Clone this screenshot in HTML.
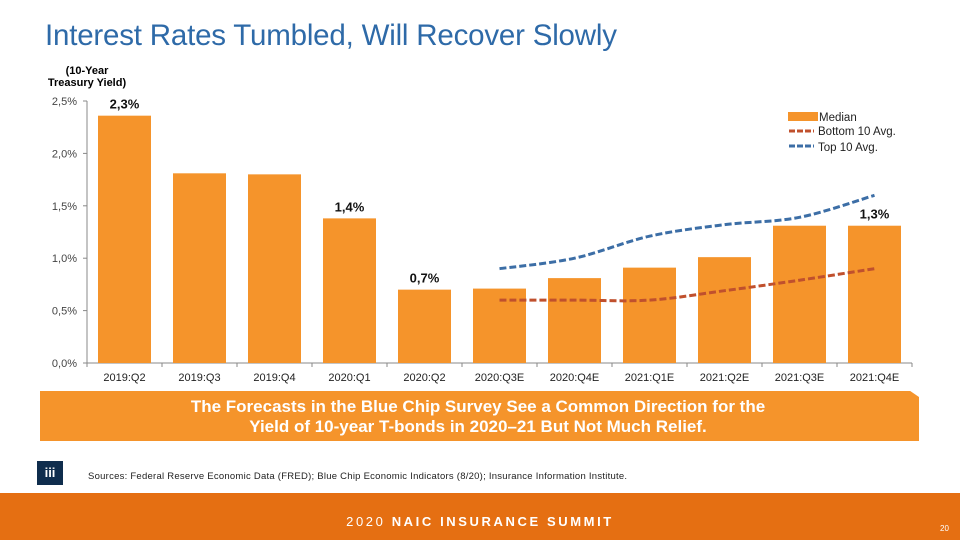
<!DOCTYPE html>
<html><head><meta charset="utf-8"><style>
body{margin:0;width:960px;height:540px;overflow:hidden;background:#fff;font-family:"Liberation Sans",sans-serif;position:relative}
.a{position:absolute}
</style></head><body>
<div class="a" style="left:45px;top:19px;font-size:29.5px;color:#2e6aa8;letter-spacing:-0.2px">Interest Rates Tumbled, Will Recover Slowly</div>
<div class="a" style="left:40px;top:65px;width:94px;text-align:center;font-size:11px;font-weight:bold;line-height:12px">(10-Year<br>Treasury Yield)</div>
<svg class="a" style="left:0;top:0" width="960" height="400">
<g id="g"></g>
<g>
<rect x="788" y="112" width="30" height="9" fill="#f5942b"/>
<text x="819" y="121" font-size="11.5" fill="#222">Median</text>
<line x1="789" y1="131" x2="814" y2="131" stroke="#c0502d" stroke-width="3" stroke-dasharray="6,2"/>
<text x="818" y="135" font-size="11.5" fill="#222">Bottom 10 Avg.</text>
<line x1="789" y1="146" x2="814" y2="146" stroke="#3c6ea6" stroke-width="3" stroke-dasharray="6,2"/>
<text x="818" y="151" font-size="11.5" fill="#222">Top 10 Avg.</text>
</g>
</svg>
<div class="a" style="left:40px;top:391px;width:879px;height:50px;background:#f5942b;clip-path:polygon(0 0,99% 0,100% 12%,100% 100%,0 100%);color:#fff;font-weight:bold;font-size:17px;text-align:center;line-height:20px;padding-top:6px;box-sizing:border-box"><div style="width:876px">The Forecasts in the Blue Chip Survey See a Common Direction for the<br>Yield of 10-year T-bonds in 2020–21 But Not Much Relief.</div></div>
<div class="a" style="left:37px;top:461px;width:26px;height:24px;background:#0f2d4d;color:#fff;font-size:13px;font-weight:bold;text-align:center;line-height:24px">iii</div>
<div class="a" style="left:88px;top:471px;font-size:9.5px;color:#222;letter-spacing:0.25px">Sources: Federal Reserve Economic Data (FRED); Blue Chip Economic Indicators (8/20); Insurance Information Institute.</div>
<div class="a" style="left:0;top:493px;width:960px;height:47px;background:#e56f12"></div>
<div class="a" style="left:0;top:514px;width:960px;text-align:center;color:#fff;font-size:13px;letter-spacing:2.6px">2020 <b>NAIC INSURANCE SUMMIT</b></div>
<div class="a" style="left:940px;top:524px;color:#fff;font-size:8px">20</div>
<script>
const categories=["2019:Q2","2019:Q3","2019:Q4","2020:Q1","2020:Q2","2020:Q3E","2020:Q4E","2021:Q1E","2021:Q2E","2021:Q3E","2021:Q4E"];
const median=[2.36,1.81,1.80,1.38,0.70,0.71,0.81,0.91,1.01,1.31,1.31];
const top10=[null,null,null,null,null,0.90,1.00,1.21,1.32,1.39,1.60];
const bottom10=[null,null,null,null,null,0.60,0.60,0.60,0.69,0.79,0.90];
const labels=["2,3%",null,null,"1,4%","0,7%",null,null,null,null,null,"1,3%"];
const yTicks=[0,0.5,1,1.5,2,2.5];
const yTickLabels=["0,0%","0,5%","1,0%","1,5%","2,0%","2,5%"];
const NS="http://www.w3.org/2000/svg",g=document.getElementById('g');
const x0=87,slot=75,yb=363,ppu=104.8;
const X=i=>x0+slot*(i+0.5),Y=v=>yb-v*ppu;
function mk(t,a){const e=document.createElementNS(NS,t);for(const k in a)e.setAttribute(k,a[k]);g.appendChild(e);return e;}
let e=mk('line',{x1:x0,y1:Y(0),x2:x0,y2:Y(2.5),stroke:'#888'});


e=mk('line',{x1:x0,y1:yb,x2:x0+slot*categories.length,y2:yb,stroke:'#888'});


yTicks.forEach((v,i)=>{mk('line',{x1:x0-4,y1:Y(v),x2:x0,y2:Y(v),stroke:'#888'});
const t=mk('text',{x:x0-10,y:Y(v)+4,'text-anchor':'end','font-size':11,fill:'#444'});t.textContent=yTickLabels[i];

});
for(let i=0;i<=categories.length;i++)mk('line',{x1:x0+slot*i,y1:yb,x2:x0+slot*i,y2:yb+4,stroke:'#888'});
categories.forEach((c,i)=>{
const r=mk('rect',{x:X(i)-26.5,y:Y(median[i]),width:53,height:median[i]*ppu,fill:'#f5942b'});


const t=mk('text',{x:X(i),y:yb+18,'text-anchor':'middle','font-size':11,fill:'#222'});t.textContent=c;


if(labels[i]){const l=mk('text',{x:X(i),y:Y(median[i])-7,'text-anchor':'middle','font-size':13,'font-weight':'bold',fill:'#111'});l.textContent=labels[i];

}
});
function curve(arr,col,name){const p=[];arr.forEach((v,i)=>{if(v!=null)p.push([X(i),Y(v)]);});
let d='M'+p[0];for(let i=0;i<p.length-1;i++){const a=p[i-1]||p[i],b=p[i],c=p[i+1],n=p[i+2]||c;
const c1=[b[0]+(c[0]-a[0])/6,b[1]+(c[1]-a[1])/6],c2=[c[0]-(n[0]-b[0])/6,c[1]-(n[1]-b[1])/6];d+='C'+c1+' '+c2+' '+c;}
const e=mk('path',{d:d,fill:'none',stroke:col,'stroke-width':3,'stroke-dasharray':'7,3'});

}
curve(top10,'#3c6ea6','top-10-line');
curve(bottom10,'#c0502d','bottom-10-line');
</script>
</body></html>
